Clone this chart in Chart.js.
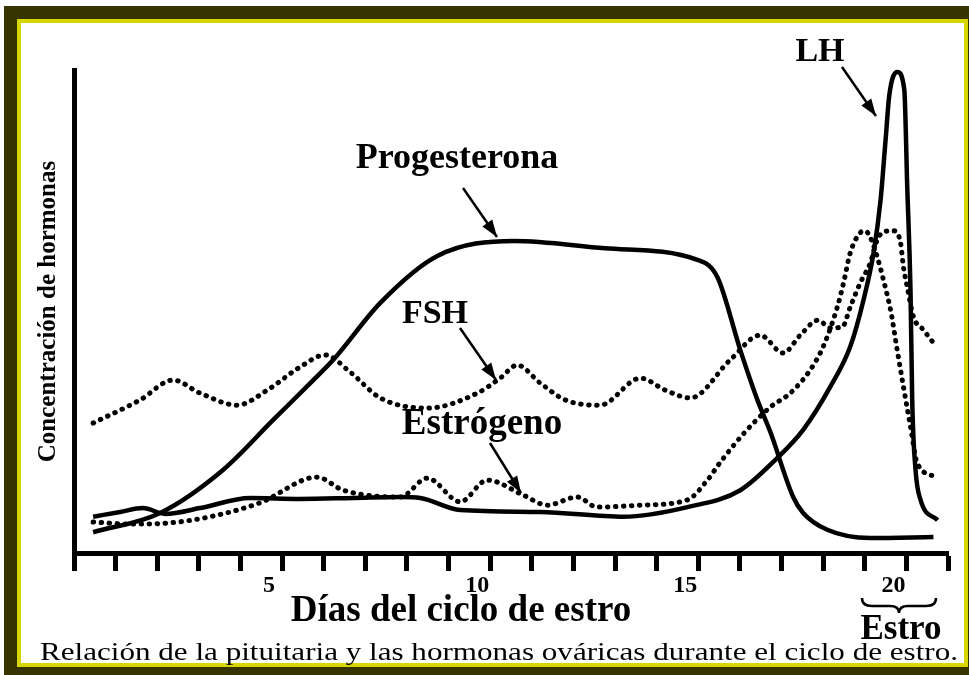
<!DOCTYPE html>
<html>
<head>
<meta charset="utf-8">
<script src="https://cdn.jsdelivr.net/npm/chart.js@4.4.1/dist/chart.umd.min.js"></script>
<style>
html, body { margin: 0; padding: 0; background: #fff; width: 969px; height: 675px; overflow: hidden; }
#frame { position: absolute; left: 4px; top: 6px; width: 977px; height: 674px; border: 13px solid #383400; box-sizing: border-box; }
#frame-inner { position: absolute; left: 0; top: 0; width: 951px; height: 648px; border: 4px solid #d6d600; box-sizing: border-box; }
#chart { position: absolute; left: 0; top: 0; }
</style>
</head>
<body>
<div id="frame"><div id="frame-inner"></div></div>
<canvas id="chart" width="969" height="675"></canvas>
<script>
// Days of the cycle (x) and relative concentration (y, 0-100)
const progDays = [0.46, 2.07, 3.58, 4.78, 5.75, 6.23, 7.36, 8.73, 10.58, 12.76, 14.98, 15.46, 16.01, 16.42, 16.73, 17.28, 17.52, 18.1, 19.13, 20.65];
const progVals = [4.3, 8.3, 17.2, 27.5, 35.8, 40.0, 51.8, 61.5, 64.6, 63.1, 60.7, 57.1, 42.0, 31.7, 25.1, 11.6, 8.3, 4.8, 3.1, 3.3];

const lhDays = [0.46, 1.11, 1.66, 2.19, 3.03, 4.23, 5.43, 6.71, 7.84, 8.32, 9.28, 11.2, 13.2, 14.74, 16.01, 16.9, 17.52, 18.17, 18.65, 18.97, 19.21, 19.38, 19.5, 19.59, 19.78, 19.95, 20.02, 20.1, 20.14, 20.22, 20.34, 20.75];
const lhVals = [7.5, 8.5, 9.3, 8.1, 9.3, 11.4, 11.2, 11.4, 11.6, 11.4, 8.9, 8.5, 7.5, 9.5, 13.0, 19.7, 25.5, 34.4, 42.7, 52.4, 62.1, 73.1, 85.5, 94.8, 99.6, 95.9, 76.0, 54.0, 31.7, 17.2, 11.0, 6.8];

const estDays = [0.46, 1.35, 2.24, 3.27, 4.47, 5.84, 6.47, 7.84, 8.49, 9.28, 9.93, 10.79, 11.37, 12.09, 12.57, 13.61, 14.74, 15.22, 15.53, 16.13, 16.73, 17.21, 17.69, 18.0, 18.34, 18.49, 18.65, 18.89, 19.01, 19.13, 19.3, 19.45, 19.62, 19.78, 19.93, 20.1, 20.26, 20.75];
const estVals = [6.4, 6.0, 6.2, 7.5, 10.4, 15.7, 13.0, 11.6, 15.5, 10.6, 15.1, 12.0, 9.9, 11.6, 9.5, 9.9, 11.0, 15.1, 18.8, 25.1, 30.2, 33.1, 37.9, 42.7, 50.9, 55.9, 62.1, 66.3, 66.7, 65.4, 61.3, 56.5, 50.3, 42.0, 34.4, 26.1, 18.6, 15.7];

const fshDays = [0.46, 1.59, 2.38, 3.03, 3.92, 4.64, 5.43, 6.03, 6.63, 7.36, 8.49, 9.69, 10.24, 10.65, 11.2, 11.8, 12.64, 13.61, 14.21, 14.81, 15.77, 16.49, 17.04, 17.45, 17.88, 18.17, 18.46, 18.65, 18.89, 19.13, 19.3, 19.45, 19.69, 19.86, 19.93, 20.02, 20.17, 20.41, 20.65];
const fshVals = [26.9, 31.7, 35.8, 33.1, 30.6, 33.7, 38.5, 41.0, 37.5, 32.1, 30.0, 33.1, 36.2, 38.9, 35.2, 31.7, 30.6, 36.2, 33.7, 32.1, 40.0, 45.1, 41.4, 45.1, 48.2, 46.6, 46.8, 50.9, 55.9, 60.0, 64.8, 66.5, 66.7, 64.2, 59.2, 55.1, 48.9, 46.2, 43.5];

const xLabeled = [5, 10, 15, 20];
const xMin = 0, xMax = 21;

const serif = '"Liberation Serif", "Times New Roman", serif';

const pts = (xs, ys) => xs.map((x, i) => ({ x: x, y: ys[i] }));

const solid = { borderColor: '#000', borderWidth: 4.5, pointRadius: 0, fill: false, cubicInterpolationMode: 'monotone', clip: false };
const dotted = { borderColor: '#000', borderWidth: 5, borderDash: [0.5, 7.5], borderCapStyle: 'round', pointRadius: 0, fill: false, cubicInterpolationMode: 'monotone', clip: false };

// labels, arrows and captions drawn over the plot
const annotations = {
  id: 'annotations',
  afterDraw(chart) {
    const ctx = chart.ctx;
    ctx.save();
    ctx.fillStyle = '#000';
    ctx.strokeStyle = '#000';
    ctx.textAlign = 'center';
    ctx.textBaseline = 'alphabetic';

    ctx.font = 'bold 36px ' + serif;
    ctx.fillText('Progesterona', 457, 168);
    ctx.font = 'bold 34px ' + serif;
    ctx.fillText('LH', 820, 61);
    ctx.fillText('FSH', 435, 323);
    ctx.font = 'bold 37px ' + serif;
    ctx.fillText('Estrógeno', 482, 434);

    const arrow = (x1, y1, x2, y2) => {
      ctx.lineWidth = 2.5;
      ctx.beginPath();
      ctx.moveTo(x1, y1);
      ctx.lineTo(x2, y2);
      ctx.stroke();
      const a = Math.atan2(y2 - y1, x2 - x1);
      const len = 17, w = 6;
      ctx.beginPath();
      ctx.moveTo(x2, y2);
      ctx.lineTo(x2 - len * Math.cos(a) + w * Math.sin(a), y2 - len * Math.sin(a) - w * Math.cos(a));
      ctx.lineTo(x2 - len * Math.cos(a) - w * Math.sin(a), y2 - len * Math.sin(a) + w * Math.cos(a));
      ctx.closePath();
      ctx.fill();
    };
    arrow(463, 188, 497, 237);
    arrow(842, 67, 876, 116);
    arrow(460, 328, 496, 380);
    arrow(490, 443, 521, 493);

    ctx.font = 'bold 37px ' + serif;
    ctx.fillText('Días del ciclo de estro', 461, 621);

    ctx.font = 'bold 35px ' + serif;
    ctx.fillText('Estro', 901, 639);

    // brace over "Estro"
    ctx.lineWidth = 2.5;
    ctx.beginPath();
    ctx.moveTo(862, 598);
    ctx.quadraticCurveTo(862, 606, 872, 606);
    ctx.lineTo(890, 606);
    ctx.quadraticCurveTo(899, 606, 899, 613);
    ctx.quadraticCurveTo(899, 606, 908, 606);
    ctx.lineTo(926, 606);
    ctx.quadraticCurveTo(936, 606, 936, 598);
    ctx.stroke();

    const caption = 'Relación de la pituitaria y las hormonas ováricas durante el ciclo de estro.';
    ctx.font = '25px ' + serif;
    const w = ctx.measureText(caption).width;
    ctx.translate(499, 660);
    ctx.scale(918 / w, 1);
    ctx.fillText(caption, 0, 0);
    ctx.restore();
  }
};

new Chart(document.getElementById('chart'), {
  type: 'line',
  data: {
    datasets: [
      Object.assign({ label: 'Progesterona', data: pts(progDays, progVals) }, solid),
      Object.assign({ label: 'LH', data: pts(lhDays, lhVals) }, solid),
      Object.assign({ label: 'Estrógeno', data: pts(estDays, estVals) }, dotted),
      Object.assign({ label: 'FSH', data: pts(fshDays, fshVals) }, dotted)
    ]
  },
  options: {
    responsive: false,
    animation: false,
    devicePixelRatio: 1,
    layout: { padding: { left: 32, top: 70, right: 21, bottom: 0 } },
    plugins: { legend: { display: false }, tooltip: { enabled: false } },
    scales: {
      x: {
        type: 'linear',
        min: xMin,
        max: xMax,
        afterFit: s => { s.height = 122; },
        border: { display: true, color: '#000', width: 5 },
        grid: { display: true, drawOnChartArea: false, drawTicks: true, tickLength: 18, tickWidth: 5, tickColor: '#000' },
        ticks: {
          stepSize: 1,
          autoSkip: false,
          maxRotation: 0,
          padding: 0,
          labelOffset: -13,
          color: '#000',
          font: { family: serif, size: 24, weight: 'bold' },
          callback: v => xLabeled.includes(v) ? String(v) : ''
        }
      },
      y: {
        min: 0,
        max: 100,
        afterFit: s => { s.width = 42; },
        border: { display: true, color: '#000', width: 5 },
        grid: { display: false },
        ticks: { display: false },
        title: {
          display: true,
          text: 'Concentración de hormonas',
          color: '#000',
          padding: { top: 2, bottom: 0 },
          font: { family: serif, size: 25, weight: 'bold' }
        }
      }
    }
  },
  plugins: [annotations]
});
</script>
</body>
</html>
